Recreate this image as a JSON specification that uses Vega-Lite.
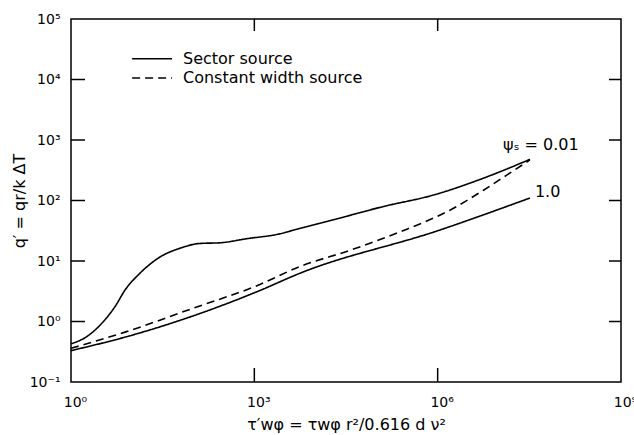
{
  "$schema": "https://vega.github.io/schema/vega-lite/v6.json",
  "width": 550,
  "height": 363,
  "autosize": {"type": "none"},
  "padding": {"left": 71, "top": 19, "right": 13, "bottom": 53},
  "background": "white",
  "config": {
    "view": {"stroke": "black", "strokeWidth": 1.5},
    "font": "DejaVu Sans",
    "axis": {
      "domain": false,
      "grid": false,
      "ticks": false,
      "tickSize": 0,
      "labelColor": "black",
      "titleColor": "black",
      "labelFont": "DejaVu Sans",
      "titleFont": "DejaVu Sans",
      "labelFontSize": 14,
      "titleFontSize": 16,
      "titleFontWeight": "normal"
    }
  },
  "datasets": {
    "curves": [
      {"x": 1, "y": 0.427, "curve": "s001", "source": "Sector source"},
      {"x": 1.807, "y": 0.562, "curve": "s001", "source": "Sector source"},
      {"x": 3.39, "y": 1.0, "curve": "s001", "source": "Sector source"},
      {"x": 5.25, "y": 1.76, "curve": "s001", "source": "Sector source"},
      {"x": 7.66, "y": 3.31, "curve": "s001", "source": "Sector source"},
      {"x": 13.5, "y": 6.31, "curve": "s001", "source": "Sector source"},
      {"x": 28.8, "y": 11.7, "curve": "s001", "source": "Sector source"},
      {"x": 60.3, "y": 16.2, "curve": "s001", "source": "Sector source"},
      {"x": 129, "y": 19.5, "curve": "s001", "source": "Sector source"},
      {"x": 275, "y": 20.0, "curve": "s001", "source": "Sector source"},
      {"x": 759, "y": 23.4, "curve": "s001", "source": "Sector source"},
      {"x": 2344, "y": 27.5, "curve": "s001", "source": "Sector source"},
      {"x": 5623, "y": 34.7, "curve": "s001", "source": "Sector source"},
      {"x": 19498, "y": 47.9, "curve": "s001", "source": "Sector source"},
      {"x": 128825, "y": 79.4, "curve": "s001", "source": "Sector source"},
      {"x": 851138, "y": 123, "curve": "s001", "source": "Sector source"},
      {"x": 5620000, "y": 234, "curve": "s001", "source": "Sector source"},
      {"x": 32400000, "y": 479, "curve": "s001", "source": "Sector source"},
      {"x": 1, "y": 0.33, "curve": "s10", "source": "Sector source"},
      {"x": 8.1, "y": 0.56, "curve": "s10", "source": "Sector source"},
      {"x": 1100, "y": 3.1, "curve": "s10", "source": "Sector source"},
      {"x": 5623, "y": 6.3, "curve": "s10", "source": "Sector source"},
      {"x": 1000000, "y": 31.6, "curve": "s10", "source": "Sector source"},
      {"x": 32400000, "y": 110, "curve": "s10", "source": "Sector source"},
      {"x": 1, "y": 0.36, "curve": "c", "source": "Constant width source"},
      {"x": 8.1, "y": 0.68, "curve": "c", "source": "Constant width source"},
      {"x": 100, "y": 1.66, "curve": "c", "source": "Constant width source"},
      {"x": 1100, "y": 3.9, "curve": "c", "source": "Constant width source"},
      {"x": 5623, "y": 8.13, "curve": "c", "source": "Constant width source"},
      {"x": 37154, "y": 15.1, "curve": "c", "source": "Constant width source"},
      {"x": 239883, "y": 30.2, "curve": "c", "source": "Constant width source"},
      {"x": 1585000, "y": 69.2, "curve": "c", "source": "Constant width source"},
      {"x": 5620000, "y": 148, "curve": "c", "source": "Constant width source"},
      {"x": 13500000, "y": 263, "curve": "c", "source": "Constant width source"},
      {"x": 32400000, "y": 468, "curve": "c", "source": "Constant width source"}
    ],
    "legendLines": [
      {"x": 10, "y": 22000, "source": "Sector source"},
      {"x": 45, "y": 22000, "source": "Sector source"},
      {"x": 10, "y": 10600, "source": "Constant width source"},
      {"x": 45, "y": 10600, "source": "Constant width source"}
    ],
    "labels": [
      {"x": 1.17e7, "y": 830, "label": "ψₛ = 0.01"},
      {"x": 3.9e7, "y": 138, "label": "1.0"},
      {"x": 68, "y": 22000, "label": "Sector source"},
      {"x": 68, "y": 10600, "label": "Constant width source"}
    ],
    "leftTicks": [{"x": 1, "y": 1}, {"x": 1, "y": 10}, {"x": 1, "y": 100}, {"x": 1, "y": 1000}, {"x": 1, "y": 10000}],
    "rightTicks": [{"x": 1000000000, "y": 1}, {"x": 1000000000, "y": 10}, {"x": 1000000000, "y": 100}, {"x": 1000000000, "y": 1000}, {"x": 1000000000, "y": 10000}],
    "bottomTicks": [{"x": 1000, "y": 0.1}, {"x": 1000000, "y": 0.1}],
    "topTicks": [{"x": 1000, "y": 100000}, {"x": 1000000, "y": 100000}]
  },
  "layer": [
    {
      "data": {"name": "curves"},
      "mark": {"type": "line", "color": "black", "strokeWidth": 1.6, "interpolate": "monotone"},
      "encoding": {
        "x": {
          "field": "x", "type": "quantitative",
          "scale": {"type": "log", "domain": [1, 1000000000], "nice": false},
          "axis": {
            "orient": "bottom",
            "values": [1, 1000, 1000000, 1000000000],
            "labelExpr": "datum.value < 10 ? '10⁰' : datum.value < 10000 ? '10³' : datum.value < 1e7 ? '10⁶' : '10⁹'",
            "labelFlush": false,
            "labelOverlap": false,
            "labelPadding": 13,
            "labelOffset": 4,
            "title": "τ′wφ = τwφ r²/0.616 d ν²",
            "titlePadding": 7
          }
        },
        "y": {
          "field": "y", "type": "quantitative",
          "scale": {"type": "log", "domain": [0.1, 100000], "nice": false},
          "axis": {
            "orient": "left",
            "values": [0.1, 1, 10, 100, 1000, 10000, 100000],
            "labelExpr": "['10⁻¹','10⁰','10¹','10²','10³','10⁴','10⁵'][round(log(datum.value)/LN10)+1]",
            "labelFlush": false,
            "labelOverlap": false,
            "labelPadding": 11,
            "title": "q′ = qr/k ΔT",
            "titlePadding": 2
          }
        },
        "detail": {"field": "curve"},
        "strokeDash": {
          "field": "source", "type": "nominal",
          "scale": {"domain": ["Sector source", "Constant width source"], "range": [[1, 0], [8, 5]]},
          "legend": null
        }
      }
    },
    {
      "data": {"name": "legendLines"},
      "mark": {"type": "line", "color": "black", "strokeWidth": 1.5},
      "encoding": {
        "x": {"field": "x", "type": "quantitative", "axis": null},
        "y": {"field": "y", "type": "quantitative", "axis": null},
        "detail": {"field": "source"},
        "strokeDash": {
          "field": "source", "type": "nominal",
          "scale": {"domain": ["Sector source", "Constant width source"], "range": [[1, 0], [8, 5]]},
          "legend": null
        }
      }
    },
    {
      "data": {"name": "leftTicks"},
      "mark": {"type": "tick", "orient": "horizontal", "color": "black", "size": 14, "thickness": 1.5, "opacity": 1, "xOffset": 7},
      "encoding": {
        "x": {"field": "x", "type": "quantitative", "axis": null},
        "y": {"field": "y", "type": "quantitative", "axis": null}
      }
    },
    {
      "data": {"name": "rightTicks"},
      "mark": {"type": "tick", "orient": "horizontal", "color": "black", "size": 12, "thickness": 1.5, "opacity": 1, "xOffset": -6},
      "encoding": {
        "x": {"field": "x", "type": "quantitative", "axis": null},
        "y": {"field": "y", "type": "quantitative", "axis": null}
      }
    },
    {
      "data": {"name": "bottomTicks"},
      "mark": {"type": "tick", "orient": "vertical", "color": "black", "size": 14, "thickness": 1.5, "opacity": 1, "yOffset": -7},
      "encoding": {
        "x": {"field": "x", "type": "quantitative", "axis": null},
        "y": {"field": "y", "type": "quantitative", "axis": null}
      }
    },
    {
      "data": {"name": "topTicks"},
      "mark": {"type": "tick", "orient": "vertical", "color": "black", "size": 12, "thickness": 1.5, "opacity": 1, "yOffset": 6},
      "encoding": {
        "x": {"field": "x", "type": "quantitative", "axis": null},
        "y": {"field": "y", "type": "quantitative", "axis": null}
      }
    },
    {
      "data": {"name": "labels"},
      "mark": {"type": "text", "align": "left", "baseline": "middle", "font": "DejaVu Sans", "fontSize": 16, "color": "black"},
      "encoding": {
        "x": {"field": "x", "type": "quantitative", "axis": null},
        "y": {"field": "y", "type": "quantitative", "axis": null},
        "text": {"field": "label"}
      }
    }
  ],
  "resolve": {"axis": {"x": "independent", "y": "independent"}}
}
